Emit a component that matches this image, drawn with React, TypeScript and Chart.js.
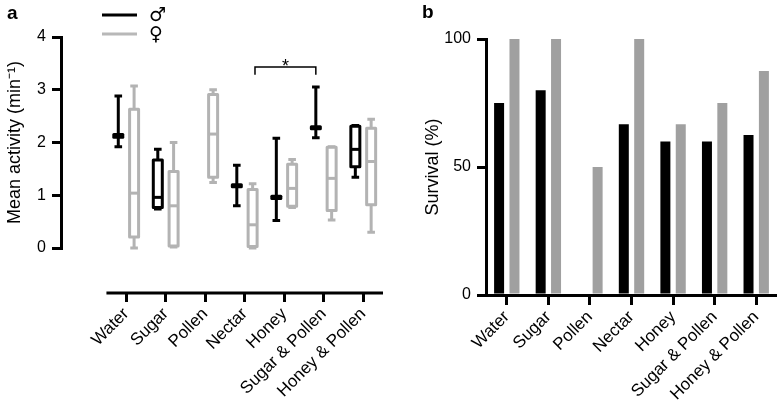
import React, { useEffect, useRef } from 'react';
import { Chart, registerables } from 'chart.js';

Chart.register(...registerables);

// ---------- data ----------
const categories = ['Water', 'Sugar', 'Pollen', 'Nectar', 'Honey', 'Sugar & Pollen', 'Honey & Pollen'];
const seriesNames = ['\u2642', '\u2640'];

// box-plot statistics per diet: [min, q1, median, q3, max]  (null = no data)
const maleActivity: (number[] | null)[] = [
  [1.92, 2.1, 2.13, 2.15, 2.88],
  [0.74, 0.77, 0.96, 1.67, 1.87],
  null,
  [0.8, 1.16, 1.18, 1.2, 1.57],
  [0.52, 0.94, 0.96, 0.98, 2.08],
  [2.09, 2.26, 2.28, 2.3, 3.05],
  [1.34, 1.54, 1.87, 2.31, 2.32],
];
const femaleActivity: (number[] | null)[] = [
  [0.0, 0.21, 1.04, 2.63, 3.07],
  [0.02, 0.04, 0.8, 1.45, 2.0],
  [1.24, 1.34, 2.16, 2.91, 3.0],
  [0.0, 0.03, 0.44, 1.11, 1.22],
  [0.77, 0.79, 1.13, 1.59, 1.68],
  [0.53, 0.71, 1.32, 1.91, 1.92],
  [0.3, 0.82, 1.64, 2.27, 2.44],
];
const activityTicks = [0, 1, 2, 3, 4];

// significance bracket (category units) and level (activity units)
const sigFrom = 3.26;
const sigTo = 4.8;
const sigLevel = 3.43;
const sigText = '*';

const maleSurvival = [75, 80, 0, 66.7, 60, 60, 62.5];
const femaleSurvival = [100, 100, 50, 100, 66.7, 75, 87.5];
const survivalTicks = [0, 50, 100];

// ---------- styling ----------
const FONT = "'Liberation Sans', Arial, Helvetica, sans-serif";
const BLACK = '#000000';
const GREY_BOX = '#b3b3b3';
const GREY_BAR = '#a0a0a0';
const PAIR_OFFSET = 0.2;
const X_MIN = -1.65;
const X_AXIS_AT = -0.853;
const TICK_FONT = 16;
const CAT_FONT = 17;
const TITLE_FONT = 18;

Chart.defaults.font.family = FONT;
Chart.defaults.color = BLACK;

function drawLetter(ctx: CanvasRenderingContext2D, letter: string, x: number, y: number) {
  ctx.save();
  ctx.fillStyle = BLACK;
  ctx.font = `bold 19px ${FONT}`;
  ctx.textAlign = 'left';
  ctx.textBaseline = 'alphabetic';
  ctx.fillText(letter, x, y);
  ctx.restore();
}

const boxPlugin = {
  id: 'boxPlots',
  afterDraw(chart: any) {
    const { ctx, scales } = chart;
    const x = scales.x;
    const y = scales.y;
    ctx.save();
    // detached x axis line
    ctx.strokeStyle = BLACK;
    ctx.lineWidth = 3;
    ctx.lineCap = 'butt';
    const ay = y.getPixelForValue(X_AXIS_AT);
    ctx.beginPath();
    ctx.moveTo(x.getPixelForValue(-0.5), ay);
    ctx.lineTo(x.getPixelForValue(categories.length - 0.5), ay);
    ctx.stroke();

    const drawBox = (stats: number[], xv: number, color: string) => {
      const cx = x.getPixelForValue(xv);
      const [mn, q1, md, q3, mx] = stats.map((v) => y.getPixelForValue(v));
      const bw = 4.5;
      const cw = 3.8;
      ctx.strokeStyle = color;
      ctx.lineWidth = 3;
      ctx.lineJoin = 'round';
      ctx.lineCap = 'butt';
      ctx.beginPath();
      ctx.moveTo(cx, mn);
      ctx.lineTo(cx, q1);
      ctx.moveTo(cx, q3);
      ctx.lineTo(cx, mx);
      ctx.moveTo(cx - cw, mn);
      ctx.lineTo(cx + cw, mn);
      ctx.moveTo(cx - cw, mx);
      ctx.lineTo(cx + cw, mx);
      ctx.stroke();
      ctx.fillStyle = '#ffffff';
      ctx.beginPath();
      ctx.rect(cx - bw, q3, bw * 2, q1 - q3);
      ctx.fill();
      ctx.stroke();
      ctx.beginPath();
      ctx.moveTo(cx - bw, md);
      ctx.lineTo(cx + bw, md);
      ctx.stroke();
    };
    categories.forEach((_, i) => {
      const m = maleActivity[i];
      const f = femaleActivity[i];
      if (m) drawBox(m, i - PAIR_OFFSET, BLACK);
      if (f) drawBox(f, i + PAIR_OFFSET, GREY_BOX);
    });

    // significance bracket
    const bx1 = x.getPixelForValue(sigFrom);
    const bx2 = x.getPixelForValue(sigTo);
    const by = y.getPixelForValue(sigLevel);
    const byEnd = y.getPixelForValue(sigLevel - 0.145);
    ctx.strokeStyle = BLACK;
    ctx.lineWidth = 1.5;
    ctx.lineJoin = 'miter';
    ctx.beginPath();
    ctx.moveTo(bx1, byEnd);
    ctx.lineTo(bx1, by);
    ctx.lineTo(bx2, by);
    ctx.lineTo(bx2, byEnd);
    ctx.stroke();
    ctx.fillStyle = BLACK;
    ctx.font = `18px ${FONT}`;
    ctx.textAlign = 'center';
    ctx.textBaseline = 'alphabetic';
    ctx.fillText(sigText, (bx1 + bx2) / 2, by + 5);

    // legend
    const legendColors = [BLACK, '#b8b8b8'];
    seriesNames.forEach((name, i) => {
      const ly = 15 + i * 19;
      ctx.strokeStyle = legendColors[i];
      ctx.lineWidth = 3;
      ctx.beginPath();
      ctx.moveTo(102, ly);
      ctx.lineTo(137, ly);
      ctx.stroke();
      ctx.fillStyle = BLACK;
      ctx.font = `19px 'DejaVu Sans', ${FONT}`;
      ctx.textAlign = 'left';
      ctx.textBaseline = 'middle';
      ctx.fillText(name, 149, ly + 1);
    });
    ctx.restore();
    drawLetter(ctx, 'a', 7, 19);
  },
};

const letterB = {
  id: 'letterB',
  afterDraw(chart: any) {
    drawLetter(chart.ctx, 'b', 32, 18);
  },
};

export default function App() {
  const refA = useRef<HTMLCanvasElement>(null);
  const refB = useRef<HTMLCanvasElement>(null);

  useEffect(() => {
    const chartA = new Chart(refA.current as HTMLCanvasElement, {
      type: 'scatter',
      data: {
        datasets: [
          {
            label: seriesNames[0],
            data: categories
              .map((_, i) => (maleActivity[i] ? { x: i - PAIR_OFFSET, y: (maleActivity[i] as number[])[2] } : null))
              .filter(Boolean) as any,
            pointRadius: 0,
            borderColor: BLACK,
            backgroundColor: BLACK,
          },
          {
            label: seriesNames[1],
            data: categories
              .map((_, i) => (femaleActivity[i] ? { x: i + PAIR_OFFSET, y: (femaleActivity[i] as number[])[2] } : null))
              .filter(Boolean) as any,
            pointRadius: 0,
            borderColor: GREY_BOX,
            backgroundColor: GREY_BOX,
          },
        ],
      },
      options: {
        animation: false,
        responsive: false,
        layout: { padding: { top: 37, right: 7, bottom: 158, left: 0 } },
        plugins: { legend: { display: false }, tooltip: { enabled: false } },
        scales: {
          x: {
            type: 'linear',
            position: { y: X_AXIS_AT } as any,
            min: X_MIN,
            max: categories.length - 0.5,
            afterBuildTicks: (s: any) => {
              s.ticks = categories.map((_, i) => ({ value: i }));
            },
            ticks: {
              autoSkip: false,
              minRotation: 45,
              maxRotation: 45,
              padding: 2,
              color: BLACK,
              font: { size: CAT_FONT },
              callback: (v: any) => categories[v as number] ?? '',
            },
            grid: { display: true, drawOnChartArea: false, drawTicks: true, tickLength: 9, lineWidth: 3, color: BLACK },
            border: { display: false },
          },
          y: {
            min: 0,
            max: 4,
            afterFit: (s: any) => {
              s.width = 61;
            },
            afterBuildTicks: (s: any) => {
              s.ticks = activityTicks.map((v) => ({ value: v }));
            },
            ticks: { padding: 6, color: BLACK, font: { size: TICK_FONT } },
            grid: { drawOnChartArea: false, tickLength: 9, lineWidth: 3, color: BLACK },
            border: { display: true, width: 3, color: BLACK },
            title: {
              display: true,
              text: 'Mean activity (min\u207B\u00B9)',
              color: BLACK,
              font: { size: TITLE_FONT },
              padding: { top: 4, bottom: 0 },
            },
          },
        },
      },
      plugins: [boxPlugin],
    } as any);

    const chartB = new Chart(refB.current as HTMLCanvasElement, {
      type: 'bar',
      data: {
        labels: categories,
        datasets: [
          {
            label: seriesNames[0],
            data: maleSurvival,
            backgroundColor: BLACK,
            categoryPercentage: 0.74,
            barPercentage: 0.65,
          },
          {
            label: seriesNames[1],
            data: femaleSurvival,
            backgroundColor: GREY_BAR,
            categoryPercentage: 0.74,
            barPercentage: 0.65,
          },
        ],
      },
      options: {
        animation: false,
        responsive: false,
        layout: { padding: { top: 39, right: 0, bottom: 0, left: 0 } },
        plugins: { legend: { display: false }, tooltip: { enabled: false } },
        scales: {
          x: {
            afterFit: (s: any) => {
              s.height = 111;
            },
            ticks: { autoSkip: false, minRotation: 45, maxRotation: 45, padding: 2, color: BLACK, font: { size: CAT_FONT } },
            grid: { offset: false, drawOnChartArea: false, tickLength: 10, lineWidth: 3, color: BLACK },
            border: { display: true, width: 3, color: BLACK, z: 1 },
          },
          y: {
            min: 0,
            max: 100,
            afterFit: (s: any) => {
              s.width = 96;
            },
            afterBuildTicks: (s: any) => {
              s.ticks = survivalTicks.map((v) => ({ value: v }));
            },
            ticks: { padding: 6, color: BLACK, font: { size: TICK_FONT } },
            grid: { drawOnChartArea: false, tickLength: 9, lineWidth: 3, color: BLACK, z: 1 },
            border: { display: true, width: 3, color: BLACK, z: 1 },
            title: {
              display: true,
              text: 'Survival (%)',
              color: BLACK,
              font: { size: TITLE_FONT },
              padding: { top: 32, bottom: 0 },
            },
          },
        },
      },
      plugins: [letterB],
    } as any);

    return () => {
      chartA.destroy();
      chartB.destroy();
    };
  }, []);

  return (
    <div style={{ position: 'absolute', left: 0, top: 0, width: 777, height: 406, background: '#ffffff' }}>
      <canvas ref={refA} width={390} height={406} style={{ position: 'absolute', left: 0, top: 0 }} />
      <canvas ref={refB} width={387} height={406} style={{ position: 'absolute', left: 390, top: 0 }} />
    </div>
  );
}
